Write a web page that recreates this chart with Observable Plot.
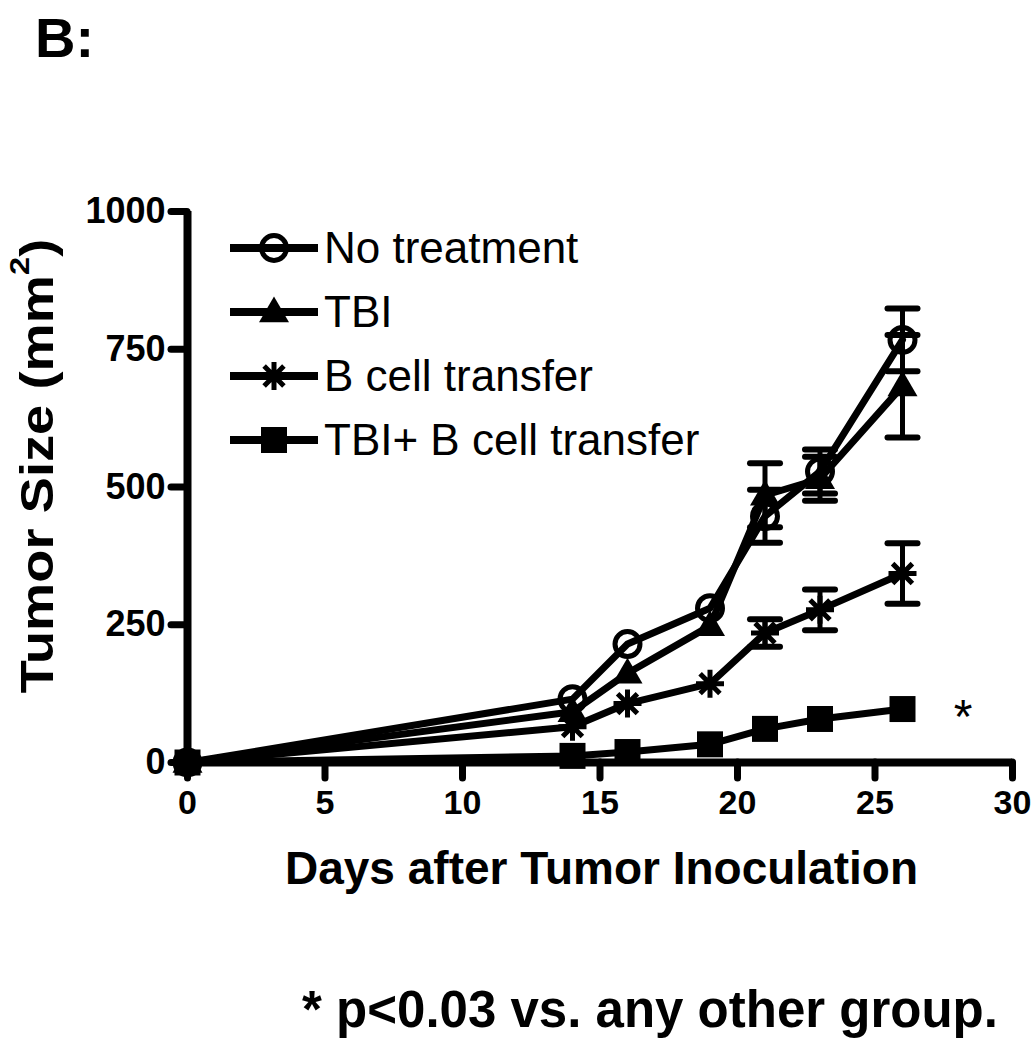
<!DOCTYPE html>
<html>
<head>
<meta charset="utf-8">
<script src="https://cdn.jsdelivr.net/npm/d3@7"></script>
<script src="https://cdn.jsdelivr.net/npm/@observablehq/plot@0.6"></script>
<style>
  html, body { margin: 0; padding: 0; background: #fff; }
  #wrap { position: relative; width: 1033px; height: 1050px; overflow: hidden; font-family: "Liberation Sans", Arial, sans-serif; color: #000; }
  #wrap svg.plot { position: absolute; left: 0; top: 0; }
  .abs { position: absolute; white-space: nowrap; line-height: 1; }
  #panel { left: 35px; top: 10px; font-size: 56px; font-weight: bold; }
  #xtitle { left: 0; width: 1203px; text-align: center; top: 845px; font-size: 46px; font-weight: bold; }
  #ytitle { left: 37px; top: 466px; font-size: 46px; font-weight: bold; transform: translate(-50%, -50%) rotate(-90deg) scale(1.18, 1.02); }
  #caption { left: 0; width: 1300px; text-align: center; top: 984px; font-size: 51px; font-weight: bold; }
  #legend { left: 228px; top: 216px; }
  .lrow { display: flex; align-items: center; height: 64px; }
  .lrow span { font-size: 44px; margin-left: 4px; }
</style>
</head>
<body>
<div id="wrap"></div>
<script>
// ---- data ----
const days = [0, 14, 16, 19, 21, 23, 26];
const groups = ["No treatment", "TBI", "B cell transfer", "TBI+ B cell transfer"];
const noTreatment    = [0, 115, 215, 280, 447, 528, 767];
const noTreatmentSem = [0, 0, 0, 0, 48, 40, 57];
const tbi            = [0, 92, 162, 248, 485, 515, 683];
const tbiSem         = [0, 0, 0, 0, 58, 40, 93];
const bCell          = [0, 65, 107, 143, 235, 277, 343];
const bCellSem       = [0, 0, 0, 0, 25, 37, 55];
const tbiBCell       = [0, 12, 19, 33, 61, 79, 97];
const tbiBCellSem    = [0, 0, 0, 0, 0, 0, 0];
const xTicks = [0, 5, 10, 15, 20, 25, 30];
const yTicks = [0, 250, 500, 750, 1000];
const xTitle = "Days after Tumor Inoculation";
const panelLabel = "B:";
const captionText = "* p<0.03 vs. any other group.";
const sigNote = [{day: 28.2, value: 97, text: "*"}];

const series = [noTreatment, tbi, bCell, tbiBCell];
const sems = [noTreatmentSem, tbiSem, bCellSem, tbiBCellSem];

// ---- symbols ----
const symCircle = {draw(ctx, size) { const r = Math.sqrt(size / Math.PI); ctx.moveTo(r, 0); ctx.arc(0, 0, r, 0, 2 * Math.PI); }};
const symTriangle = {draw(ctx, size) { const r = Math.sqrt(size / Math.PI); ctx.moveTo(0, -1.3 * r); ctx.lineTo(1.25 * r, 0.85 * r); ctx.lineTo(-1.25 * r, 0.85 * r); ctx.closePath(); }};
const symSquare = {draw(ctx, size) { const r = Math.sqrt(size / Math.PI); ctx.rect(-r, -r, 2 * r, 2 * r); }};
const symStar = {draw(ctx, size) { const r = Math.sqrt(size / Math.PI); for (let k = 0; k < 4; k++) { const a = k * Math.PI / 4; ctx.moveTo(r * Math.cos(a), r * Math.sin(a)); ctx.lineTo(-r * Math.cos(a), -r * Math.sin(a)); } }};
const symCap = {draw(ctx, size) { const r = Math.sqrt(size / Math.PI); ctx.moveTo(-r, 0); ctx.lineTo(r, 0); }};

const markerStyles = [
  {symbol: symCircle, r: 12.5, fill: "none", stroke: "black", strokeWidth: 5},
  {symbol: symTriangle, r: 12, fill: "black", stroke: "none"},
  {symbol: symStar, r: 14, fill: "none", stroke: "black", strokeWidth: 5},
  {symbol: symSquare, r: 13, fill: "black", stroke: "none"}
];

const rows = groups.flatMap((g, i) => days.map((d, j) => ({group: g, gi: i, day: d, value: series[i][j], sem: sems[i][j]})));
const errRows = rows.filter(d => d.sem > 0);
const capRows = errRows.flatMap(d => [{day: d.day, y: d.value + d.sem}, {day: d.day, y: d.value - d.sem}]);

const font = "Liberation Sans, Arial, sans-serif";

const chart = Plot.plot({
  width: 1033,
  height: 1050,
  marginLeft: 187,
  marginRight: 21,
  marginTop: 211,
  marginBottom: 288,
  style: {fontFamily: font, background: "white", color: "black"},
  x: {domain: [0, 30]},
  y: {domain: [0, 1000]},
  marks: [
    Plot.axisX({ticks: xTicks, tickSize: 16, strokeWidth: 7, strokeLinecap: "round", tickPadding: 11, fontSize: 34, fontWeight: "bold", label: null, tickFormat: d3.format("d")}),
    Plot.axisY({ticks: yTicks, tickSize: 16, strokeWidth: 7, strokeLinecap: "round", tickPadding: 6, fontSize: 36, fontWeight: "bold", label: null, tickFormat: d3.format("d")}),
    Plot.ruleX([0], {y1: 0, y2: 1000, strokeWidth: 8}),
    Plot.ruleY([0], {x1: 0, x2: 30, strokeWidth: 8}),
    Plot.line(rows, {x: "day", y: "value", z: "group", stroke: "black", strokeWidth: 7, strokeLinejoin: "round"}),
    Plot.ruleX(errRows, {x: "day", y1: d => d.value - d.sem, y2: d => d.value + d.sem, strokeWidth: 5}),
    Plot.dot(capRows, {x: "day", y: "y", symbol: symCap, r: 15, stroke: "black", strokeWidth: 6, strokeLinecap: "round"}),
    ...markerStyles.map((m, i) => Plot.dot(rows.filter(d => d.gi === i), {x: "day", y: "value", ...m})),
    Plot.text(sigNote, {x: "day", y: "value", text: "text", fontSize: 48, dy: 9, fontFamily: font})
  ]
});
chart.classList.add("plot");

const wrap = document.getElementById("wrap");
wrap.appendChild(chart);

function addText(id, text) {
  const el = document.createElement("div");
  el.className = "abs";
  el.id = id;
  el.textContent = text;
  wrap.appendChild(el);
  return el;
}
addText("panel", panelLabel);
addText("xtitle", xTitle);
const yt = document.createElement("div");
yt.className = "abs"; yt.id = "ytitle";
yt.innerHTML = "Tumor Size (mm<sup style='font-size:60%;vertical-align:0.85em;line-height:0'>2</sup>)";
wrap.appendChild(yt);
addText("caption", captionText);

// legend
const legend = document.createElement("div");
legend.className = "abs"; legend.id = "legend";
groups.forEach((g, i) => {
  const row = document.createElement("div");
  row.className = "lrow";
  const svg = d3.create("svg").attr("width", 92).attr("height", 40);
  svg.append("line").attr("x1", 2).attr("x2", 90).attr("y1", 20).attr("y2", 20).attr("stroke", "black").attr("stroke-width", 8);
  const m = markerStyles[i];
  const p = d3.path();
  m.symbol.draw(p, m.r * m.r * Math.PI);
  svg.append("path").attr("transform", "translate(46,20)").attr("d", p.toString())
    .attr("fill", m.fill).attr("stroke", m.stroke).attr("stroke-width", m.strokeWidth || 0);
  row.appendChild(svg.node());
  const t = document.createElement("span");
  t.textContent = g;
  row.appendChild(t);
  legend.appendChild(row);
});
wrap.appendChild(legend);
</script>
</body>
</html>
